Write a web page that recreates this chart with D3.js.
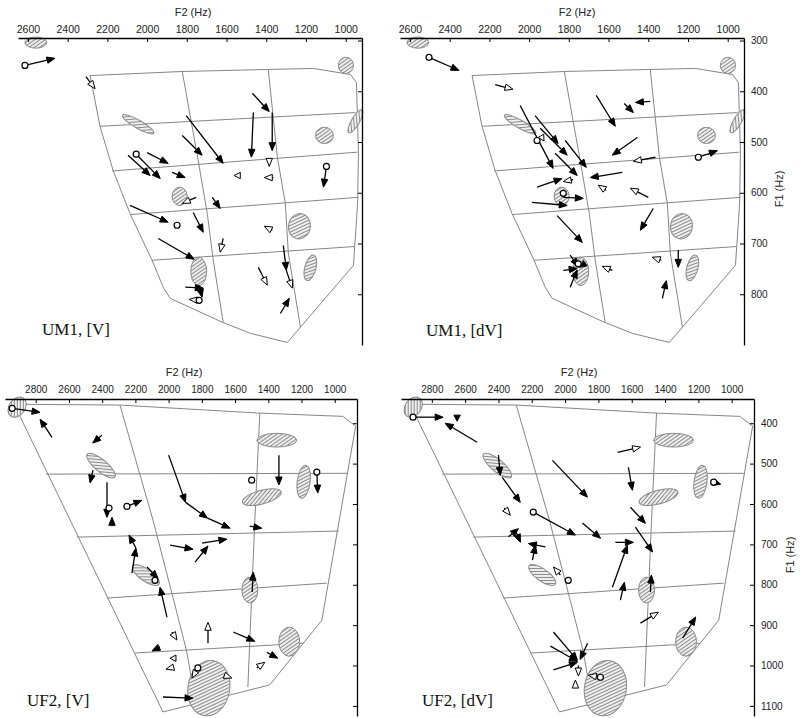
<!DOCTYPE html>
<html><head><meta charset="utf-8">
<script src="https://cdn.jsdelivr.net/npm/d3@7"></script>
<style>
body{margin:0;background:#fff}
.tick text{font-family:"Liberation Sans",Arial,sans-serif;fill:#222}
</style>
</head><body>
<svg id="c" width="804" height="718"></svg>
<script>
// ---------- tick values ----------
const f2TicksUM1 = [2600,2400,2200,2000,1800,1600,1400,1200,1000];
const f1TicksUM1 = [300,400,500,600,700,800];
const f2TicksUF2 = [2800,2600,2400,2200,2000,1800,1600,1400,1200,1000];
const f1TicksUF2 = [400,500,600,700,800,900,1000,1100];

// ---------- vowel-space grids (F2 Hz, F1 Hz) ----------
const um1Outline = [[2287,369],[1823,361],[1390,357],[1163,355],[975,367],[946,383],[936,520],[940,620],[961,743],[1294,895],[1480,877],[1622,855],[1884,808],[1919,786],[1975,733],[2086,641],[2171,556],[2237,469],[2287,369]];
const um1GridH = [[[2237,469],[951,442]],[[2176,557],[941,520]],[[2086,643],[936,609]],[[1975,733],[958,706]]];
const um1GridV = [[[1823,361],[1743,536],[1697,641],[1667,733],[1617,855]],[[1390,357],[1344,530],[1304,621],[1289,719],[1228,865]]];
const um1Ellipses = [[2560,304,55,11,0],[999,349,38,16,0],[951,459,66,8,-60],[1107,487,45,16,0],[2045,465,91,8,30],[1836,607,38,18,0],[1233,666,55,25,10],[1740,755,40,28,0],[1178,748,28,26,15]];

const uf2Outline = [[2930,353],[2293,355],[1451,375],[952,383],[874,407],[1078,888],[1391,1048],[2034,1115],[2930,353]];
const uf2GridH = [[[2738,526],[922,524]],[[2552,682],[976,667]],[[2371,833],[1048,796]],[[2203,969],[1191,945]]];
const uf2GridV = [[[2293,355],[2094,640],[1974,831],[1890,967],[1830,1110]],[[1451,375],[1481,640],[1523,1053]]];
const uf2Ellipses = [[2912,360,66,20,-55],[1349,442,120,17,0],[2407,505,108,15,40],[1439,583,120,17,-15],[1187,545,39,41,8],[2137,776,96,15,35],[1511,813,48,32,0],[1274,941,63,36,0],[1758,1056,126,69,10]];

// ---------- formant trajectories: [F2 start, F1 start, F2 end, F1 end, head, start circle] ----------
const arrowsUM1V = [
 [2615,349,2464,335,'f',1],[2308,371,2262,395,'o',0],[1470,404,1385,440,'f',0],[1465,442,1475,530,'f',0],
 [1370,442,1370,517,'f',0],[1803,448,1617,542,'f',0],[1823,487,1723,526,'f',0],[2000,521,1894,542,'f',0],
 [2055,524,1934,572,'f',1],[2096,526,1985,566,'f',0],[1874,560,1808,570,'f',0],[1385,532,1385,548,'o',0],
 [1531,566,1561,566,'o',0],[1364,570,1410,570,'o',0],[1097,548,1112,589,'f',1],[1753,609,1823,621,'o',0],
 [1672,609,1632,631,'f',0],[2086,625,1894,658,'f',0],[1768,639,1717,678,'f',0],[1617,690,1632,717,'o',0],
 [1370,674,1410,666,'o',0],[1944,690,1763,731,'f',0],[1314,704,1299,753,'f',0],[1299,753,1269,788,'o',0],
 [1440,747,1395,782,'o',0],[1808,786,1717,788,'f',0],[1738,782,1723,806,'f',0],[1738,812,1788,810,'o',1],
 [1329,838,1284,808,'f',0]
];
const arrowsUM1dV = [
 [2504,333,2353,359,'f',1],[2171,387,2081,396,'o',0],[1662,408,1566,469,'f',0],[1521,424,1475,442,'f',0],
 [1390,420,1465,422,'f',0],[2045,428,1879,552,'f',0],[1970,448,1854,503,'f',0],[1944,473,1808,526,'f',0],
 [1869,522,1758,566,'f',0],[1818,497,1712,550,'f',0],[1940,488,1925,498,'o',0],[1960,589,1834,572,'f',0],
 [1531,560,1692,570,'f',0],[1778,574,1828,578,'o',0],[1612,595,1652,585,'o',0],[1400,609,1490,591,'o',0],
 [1985,619,1808,625,'f',0],[1828,609,1727,611,'f',0],[1859,645,1732,698,'f',0],[1375,631,1440,674,'f',0],
 [1455,491,1581,526,'f',0],[1148,530,1052,517,'f',1],[1364,530,1475,538,'o',0],
 [1793,723,1753,745,'f',0],[1828,753,1758,749,'f',0],[1793,786,1758,752,'f',0],[1717,739,1748,747,'f',0],
 [1581,753,1632,745,'o',0],[1334,733,1380,727,'o',0],[1249,713,1249,747,'f',0],[1329,808,1309,773,'f',0]
];
const arrowsUF2V = [
 [2942,363,2774,373,'f',1],[2702,435,2774,390,'f',0],[2402,430,2457,449,'f',0],[2455,516,2473,548,'f',0],
 [2371,546,2371,633,'f',0],[2341,655,2341,633,'f',0],[2251,606,2161,591,'f',1],[2000,479,1898,596,'f',0],
 [1898,596,1766,635,'f',0],[1766,635,1630,660,'f',0],[1336,479,1336,553,'f',0],[1511,655,1439,660,'f',0],
 [1108,521,1102,573,'f',1],[2221,771,2197,709,'f',0],[2197,709,2239,677,'f',0],[1991,702,1853,712,'f',0],
 [1799,697,1649,687,'f',0],[1841,744,1763,704,'f',0],[2130,756,2064,784,'f',0],[2010,880,2052,806,'f',0],
 [1497,818,1491,769,'f',0],[1763,945,1763,893,'o',0],[1611,917,1481,940,'f',0],[1980,917,1950,937,'o',0],
 [2052,954,2100,964,'f',0],[1956,982,1992,982,'o',0],[1968,1004,2016,1009,'o',0],[1824,1006,1860,1031,'o',1],
 [1667,1024,1619,1031,'o',0],[2034,1078,1853,1081,'f',0],[1469,1006,1421,992,'o',0],[1409,967,1343,982,'f',0]
];
const arrowsUF2dV = [
 [2913,385,2732,385,'f',1],[2648,380,2648,395,'f',0],[2528,447,2720,400,'f',0],[2400,479,2389,529,'f',0],
 [2377,534,2269,596,'f',0],[1685,472,1547,459,'o',0],[2076,492,1866,583,'f',0],[1620,509,1596,566,'f',0],
 [1108,546,1066,551,'f',1],[2365,610,2329,628,'o',0],[2191,620,1938,677,'f',1],[1896,647,1787,685,'f',0],
 [1608,608,1518,648,'f',0],[1578,657,1475,719,'f',0],[2340,681,2280,661,'f',0],[2298,666,2268,695,'f',0],
 [2118,706,2220,698,'f',0],[2196,739,2178,702,'f',0],[1716,806,1626,702,'f',0],[1698,695,1590,695,'f',0],
 [1668,838,1644,794,'f',0],[1488,818,1482,776,'f',0],[1548,895,1440,868,'o',0],[1294,932,1216,880,'f',0],
 [2028,776,2070,756,'o',0],[2070,917,1926,987,'f',0],[2088,952,1926,990,'f',0],[2070,1011,1926,992,'f',0],
 [1865,945,1910,985,'f',0],[1920,1000,1920,1026,'o',0],[1938,1056,1938,1036,'o',0],[1788,1029,1860,1024,'o',1]
];
const circlesUM1V = [[1849,664]];
const circlesUM1dV = [[1960,497],[1828,601],[1753,740]];
const circlesUF2V = [[2359,610],[1500,541],[2082,789]];
const circlesUF2dV = [[1981,789]];

const panelLabels = ['UM1, [V]','UM1, [dV]','UF2, [V]','UF2, [dV]'];

// ---------- layout ----------
const speakers = {
  UM1:{outline:um1Outline,gh:um1GridH,gv:um1GridV,ell:um1Ellipses,xd:[2650,918],yd:[295,900],f2t:f2TicksUM1,f1t:f1TicksUM1},
  UF2:{outline:uf2Outline,gh:uf2GridH,gv:uf2GridV,ell:uf2Ellipses,xd:[2985,866],yd:[340,1125],f2t:f2TicksUF2,f1t:f1TicksUF2}
};
const panels = [
  {sp:'UM1',arrows:arrowsUM1V,circles:circlesUM1V,label:panelLabels[0],xr:[18,362],yr:[38,345],yLab:false,lab:[42,335],tx:193,ty:16,pad:5},
  {sp:'UM1',arrows:arrowsUM1dV,circles:circlesUM1dV,label:panelLabels[1],xr:[400,744],yr:[38,345],yLab:true,lab:[426,336],tx:577,ty:16,pad:5,f1:[783,189]},
  {sp:'UF2',arrows:arrowsUF2V,circles:circlesUF2V,label:panelLabels[2],xr:[5,357],yr:[399,716],yLab:false,lab:[27,706],tx:184,ty:376,pad:6},
  {sp:'UF2',arrows:arrowsUF2dV,circles:circlesUF2dV,label:panelLabels[3],xr:[401,754],yr:[399,716],yLab:true,lab:[422,706],tx:579,ty:376,pad:6,f1:[794,555]}
];

const svg = d3.select('#c');
const defs = svg.append('defs');
const pat = defs.append('pattern').attr('id','hatch').attr('patternUnits','userSpaceOnUse')
  .attr('width',3).attr('height',3).attr('patternTransform','rotate(-35)');
pat.append('rect').attr('width',3).attr('height',3).attr('fill','#f4f4f4');
pat.append('line').attr('x1',0).attr('y1',1.5).attr('x2',3).attr('y2',1.5).attr('stroke','#8a8a8a').attr('stroke-width',1.1);

function drawArrow(g, a, sx, sy){
  const [f2a,f1a,f2b,f1b,type,circ] = a;
  const x1=sx(f2a), y1=sy(f1a), x2=sx(f2b), y2=sy(f1b);
  const dx=x2-x1, dy=y2-y1, len=Math.hypot(dx,dy)||1;
  const ux=dx/len, uy=dy/len;
  const L = type==='o' ? Math.min(8,Math.max(6,len)) : Math.min(8,Math.max(5,len));
  const W = 3.2;
  const bx=x2-ux*L, by=y2-uy*L;
  if (len > L) g.append('line').attr('x1',x1).attr('y1',y1).attr('x2',bx).attr('y2',by)
    .attr('stroke','#000').attr('stroke-width',1.3);
  g.append('path').attr('d',`M${x2},${y2}L${bx-uy*W},${by+ux*W}L${bx+uy*W},${by-ux*W}Z`)
    .attr('fill',type==='f'?'#000':'#fff').attr('stroke','#000').attr('stroke-width',1).attr('stroke-linejoin','round');
  if (circ) g.append('circle').attr('cx',x1).attr('cy',y1).attr('r',3)
    .attr('fill','#fff').attr('stroke','#000').attr('stroke-width',1.2);
}

panels.forEach(p=>{
  const s = speakers[p.sp];
  const sx = d3.scaleLinear().domain(s.xd).range(p.xr);
  const sy = d3.scaleLinear().domain(s.yd).range(p.yr);
  const g = svg.append('g');
  const line = d3.line().x(d=>sx(d[0])).y(d=>sy(d[1]));
  const grid = g.append('g').attr('fill','none').attr('stroke','#858585').attr('stroke-width',1);
  grid.append('path').attr('d',line(s.outline));
  s.gh.forEach(l=>grid.append('path').attr('d',line(l)));
  s.gv.forEach(l=>grid.append('path').attr('d',line(l)));
  // ellipses
  s.ell.forEach(e=>{
    const cx=sx(e[0]), cy=sy(e[1]);
    const rx=Math.abs(sx(e[0]+e[2])-cx), ry=Math.abs(sy(e[1]+e[3])-cy);
    g.append('ellipse').attr('cx',cx).attr('cy',cy).attr('rx',rx).attr('ry',ry)
      .attr('transform',`rotate(${e[4]},${cx},${cy})`)
      .attr('fill','url(#hatch)').attr('stroke','#8a8a8a').attr('stroke-width',1);
  });
  // arrows
  const ag = g.append('g');
  p.arrows.forEach(a=>drawArrow(ag,a,sx,sy));
  p.circles.forEach(c=>ag.append('circle').attr('cx',sx(c[0])).attr('cy',sy(c[1])).attr('r',3)
    .attr('fill','#fff').attr('stroke','#000').attr('stroke-width',1.2));
  // axes
  const ax = g.append('g').attr('transform',`translate(0,${p.yr[0]})`)
    .call(d3.axisTop(sx).tickValues(s.f2t).tickSize(-4).tickSizeOuter(0).tickPadding(p.pad).tickFormat(d3.format('d')));
  ax.selectAll('text').attr('font-size',p.sp==='UM1'?10.5:10);
  const ay = g.append('g').attr('transform',`translate(${p.xr[1]},0)`)
    .call(d3.axisRight(sy).tickValues(s.f1t).tickSize(-4).tickSizeOuter(0).tickPadding(7)
      .tickFormat(p.yLab?d3.format('d'):()=>''));
  ay.selectAll('text').attr('font-size',10);
  [ax,ay].forEach(a=>{a.select('.domain').attr('stroke','#000').attr('stroke-width',1.3);
    a.selectAll('.tick line').attr('stroke','#000').attr('stroke-width',1);});
  g.append('text').attr('x',p.tx).attr('y',p.ty).attr('text-anchor','middle')
    .attr('font-family','Liberation Sans, Arial, sans-serif').attr('font-size',11).attr('fill','#222').text('F2 (Hz)');
  if (p.f1) g.append('text').attr('transform',`translate(${p.f1[0]},${p.f1[1]}) rotate(-90)`)
    .attr('text-anchor','middle').attr('font-family','Liberation Sans, Arial, sans-serif')
    .attr('font-size',11).attr('fill','#222').text('F1 (Hz)');
  g.append('text').attr('x',p.lab[0]).attr('y',p.lab[1]).attr('font-family','Liberation Serif, Times New Roman, serif')
    .attr('font-size',17).attr('fill','#111').text(p.label);
});
</script>
</body></html>
